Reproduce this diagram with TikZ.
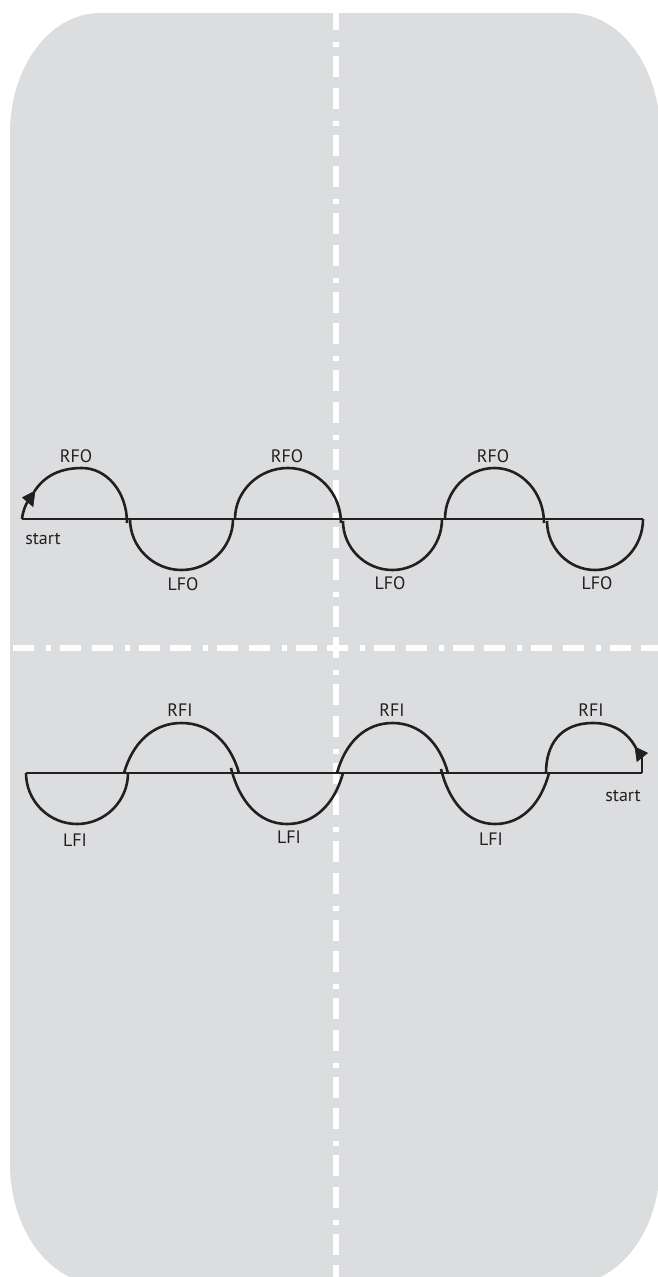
\documentclass[tikz,border=0pt]{standalone}
\usepackage{fontspec}
\setmainfont{PT Sans}
\usetikzlibrary{arrows.meta}
\definecolor{panel}{RGB}{220,221,223}
\definecolor{ink}{RGB}{35,31,32}
\newcommand{\ehump}[5]{%
  \draw[wave] (#1,#3) .. controls (#1,{#3+0.55*(#5-#3)}) and ({(#1+#2)/2-0.275*(#2-#1)},#5) .. ({(#1+#2)/2},#5) .. controls ({(#1+#2)/2+0.275*(#2-#1)},#5) and (#2,{#4+0.55*(#5-#4)}) .. (#2,#4);}
\newcommand{\shump}[5]{%
  \draw[wave] (#1,#3) .. controls ({#1+0.075*(#2-#1)},{#3+0.6*(#5-#3)}) and ({(#1+#2)/2-0.25*(#2-#1)},#5) .. ({(#1+#2)/2},#5) .. controls ({(#1+#2)/2+0.25*(#2-#1)},#5) and ({#2-0.075*(#2-#1)},{#4+0.6*(#5-#4)}) .. (#2,#4);}
\tikzset{
  wave/.style={line width=2.6pt, draw=ink, line join=round},
  guide/.style={line width=5.5pt, draw=white, dash pattern=on 21pt off 10.5pt on 21pt off 12pt on 5pt off 9pt},
  lbl/.style={inner sep=0pt, anchor=base, text=ink, font=\fontsize{18}{18}\selectfont},
  headfill/.style={fill=ink, draw=ink, line width=0.6pt, line join=miter}
}
\begin{document}
\begin{tikzpicture}[x=1pt,y=-1pt]
\useasboundingbox (0,0) rectangle (657,1277);
% panel with elliptical corners
\fill[panel] (100,13) -- (570,13) .. controls (619.7,13) and (660,66.2) .. (660,133)
  -- (660,1164) .. controls (660,1230.2) and (619.7,1284) .. (570,1284)
  -- (100,1284) .. controls (50.3,1284) and (10,1230.2) .. (10,1164)
  -- (10,133) .. controls (10,66.2) and (50.3,13) .. cycle;
% guide lines
\coordinate (vt) at (336,13);
\coordinate (vb) at (336,1284);
\coordinate (hl) at (10,648);
\coordinate (hr) at (660,648);
\draw[guide, dash phase=35.5pt] (vt) -- (vb);
\draw[guide, dash phase=28.5pt] (hl) -- (hr);
% ---------- upper row (outside edges) ----------
\coordinate (us) at (22,519);
\coordinate (ue) at (643,519);
\coordinate (uab) at (28,501);
\coordinate (uat) at (35,491);
\draw[wave] (us) -- (ue);
\draw[wave] (us) .. controls (23,511) and (25,506) .. (uab);
\fill[headfill] (uat) -- (22.5,497.5) -- (33,506.5) -- cycle;
\draw[wave] (34,492) .. controls (44,476) and (60,468) .. (82,468);
\draw[wave] (82,468) .. controls (106,468) and (127,491) .. (127,523);
\ehump{130}{233}{519}{519}{570}
\ehump{235}{341}{519}{523}{468}
\ehump{343}{442}{521}{519}{570}
\ehump{445}{544}{519}{523}{468}
\ehump{547}{643}{521}{519}{570}
\node[lbl] (rfo1) at (76,462) {RFO};
\node[lbl] (rfo2) at (287,462) {RFO};
\node[lbl] (rfo3) at (493,462) {RFO};
\node[lbl] (lfo1) at (183,590) {LFO};
\node[lbl] (lfo2) at (390,589) {LFO};
\node[lbl] (lfo3) at (597,589) {LFO};
\node[lbl] (startu) at (43,544) {start};
% ---------- lower row (inside edges) ----------
\coordinate (ls) at (26,773);
\coordinate (le) at (642,773);
\coordinate (lab) at (642,757);
\coordinate (lat) at (635,747);
\draw[wave] (ls) -- (le);
\ehump{26}{128}{773}{773}{824}
\shump{124}{239}{773}{773}{723}
\shump{231}{343}{768}{773}{824}
\shump{337}{448}{773}{773}{723}
\shump{441}{549}{769}{773}{824}
\draw[wave] (546,773) .. controls (546,745) and (560,723) .. (593,723);
\draw[wave] (le) .. controls (642,766) and (642,761) .. (lab);
\fill[headfill] (lat) -- (647.5,753) -- (637,761.5) -- cycle;
\draw[wave] (636,748) .. controls (628,733) and (614,723) .. (593,723);
\node[lbl] (rfi1) at (180,716.5) {RFI};
\node[lbl] (rfi2) at (392,716) {RFI};
\node[lbl] (rfi3) at (591,716) {RFI};
\node[lbl] (lfi1) at (75,846) {LFI};
\node[lbl] (lfi2) at (289,843) {LFI};
\node[lbl] (lfi3) at (491,845) {LFI};
\node[lbl] (startl) at (623,801) {start};
\end{tikzpicture}
\end{document}
